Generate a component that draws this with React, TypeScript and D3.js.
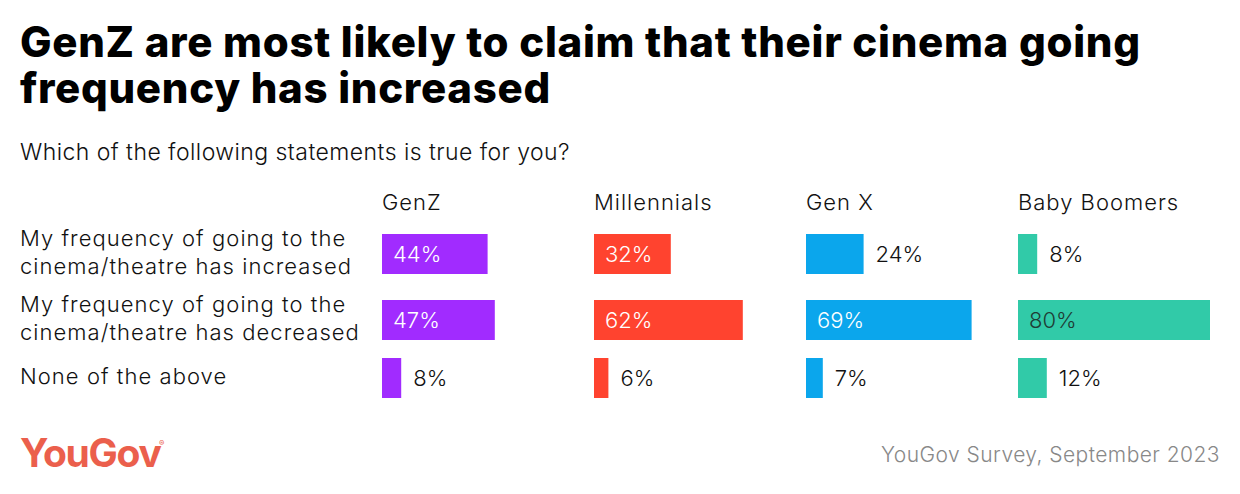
import React from "react";
import * as d3 from "d3";

const title = ["GenZ are most likely to claim that their cinema going", "frequency has increased"];
const subtitle = "Which of the following statements is true for you?";
const groups = ["GenZ", "Millennials", "Gen X", "Baby Boomers"];
const statements = [
  ["My frequency of going to the", "cinema/theatre has increased"],
  ["My frequency of going to the", "cinema/theatre has decreased"],
  ["None of the above"],
];
const genZ = [44, 47, 8];
const millennials = [32, 62, 6];
const genX = [24, 69, 7];
const boomers = [8, 80, 12];
const seriesValues = [genZ, millennials, genX, boomers];
const colors = ["#A12BFF", "#FF432F", "#0BA6EC", "#31CAA8"];
const labelColors = ["#ffffff", "#ffffff", "#ffffff", "#1f3d35"];
const source = "YouGov Survey, September 2023";

const W = 1240;
const H = 494;
const FONT = "Inter, 'Noto Sans', sans-serif";

export default function App() {
  const colX = d3.scalePoint<string>().domain(groups).range([382, 1018]);
  const x = d3.scaleLinear().domain([0, 80]).range([0, 192]);
  const barH = 40;
  // cumulative row tops: the gap before a row depends on its number of label lines
  const rowTops: number[] = [];
  let acc = 234;
  statements.forEach((s, r) => {
    if (r > 0) acc += barH + 18 + (s.length - 1) * 8;
    rowTops.push(acc);
  });

  return (
    <svg width={W} height={H} style={{ display: "block", position: "absolute", left: 0, top: 0 }} fontFamily={FONT}>
      <rect width={W} height={H} fill="#fff" />
      {title.map((t, i) => (
        <text key={i} x={20} y={57 + i * 46} fontSize={42} fontWeight={800} fill="#000" letterSpacing={0.7}>
          {t}
        </text>
      ))}
      <text x={20} y={160} fontSize={23} fill="#111" fontWeight={300} letterSpacing={0.45}>
        {subtitle}
      </text>
      {groups.map((g) => (
        <text key={g} x={colX(g)} y={210} fontSize={22} fill="#111" fontWeight={300} letterSpacing={1}>
          {g}
        </text>
      ))}
      {statements.map((lines, r) => {
        const top = rowTops[r];
        const n = lines.length;
        return (
          <g key={r}>
            {lines.map((l, j) => (
              <text
                key={j}
                x={20}
                y={top + barH / 2 + 6 + (j - (n - 1) / 2) * 28}
                fontSize={22}
                fill="#111"
                fontWeight={300}
                letterSpacing={1.05}
              >
                {l}
              </text>
            ))}
          </g>
        );
      })}
      {groups.map((g, gi) =>
        seriesValues[gi].map((v, r) => {
          const x0 = colX(g)!;
          const w = x(v);
          const inside = v >= 30;
          const top = rowTops[r];
          return (
            <g key={g + r}>
              <rect x={x0} y={top} width={w} height={barH} fill={colors[gi]} />
              <text
                x={inside ? x0 + 11 : x0 + w + 12}
                y={top + barH / 2 + 8}
                fontSize={22}
                fontWeight={300}
                fill={inside ? labelColors[gi] : "#111"}
              >
                {v}%
              </text>
            </g>
          );
        })
      )}
      <text x={20} y={467} fontSize={39} fontWeight={700} fill="#EB5F4C" letterSpacing={-1.3}>
        YouGov
      </text>
      <text x={159} y={446} fontSize={8} fill="#EB5F4C">
        ®
      </text>
      <text x={1220} y={462} fontSize={21} fill="#888" textAnchor="end" fontWeight={300} letterSpacing={0.45}>
        {source}
      </text>
    </svg>
  );
}
